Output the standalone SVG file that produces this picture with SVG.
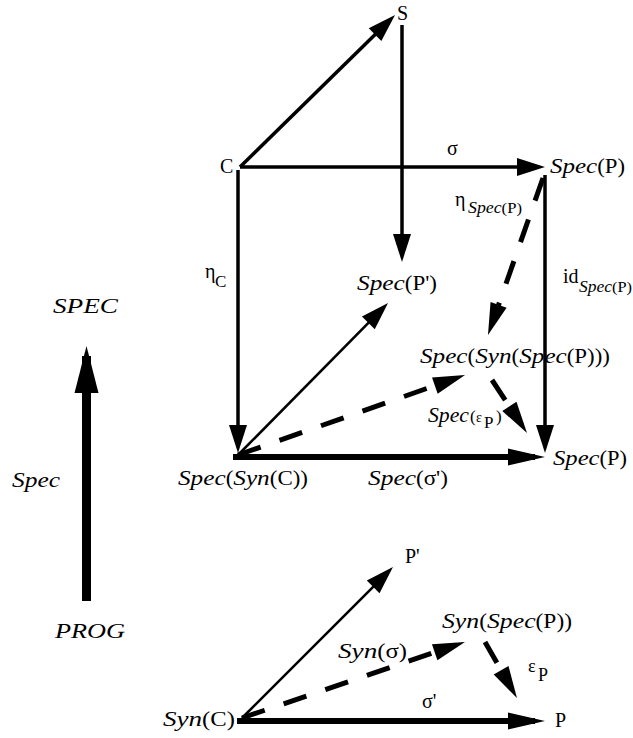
<svg xmlns="http://www.w3.org/2000/svg" width="633" height="738" viewBox="0 0 633 738">
<style>
  text { font-family: "Liberation Serif", "Times New Roman", serif; fill: #000; }
  .it { font-style: italic; font-size: 22px; }
  .rm { font-style: normal; font-size: 20px; }
  .n { font-style: normal; font-size: 20px; }
  .sub { font-size: 16px; }
  .sub .n { font-size: 15px; }
  .ln { stroke: #000; fill: none; stroke-width: 3.5; }
  .thin { stroke: #000; fill: none; stroke-width: 2.6; }
  .thick { stroke: #000; fill: none; stroke-width: 6; }
  .dash { stroke: #000; fill: none; stroke-width: 5; stroke-dasharray: 24 20; }
</style>
<defs>
  <marker id="ah" markerUnits="userSpaceOnUse" markerWidth="28" markerHeight="18" refX="18" refY="9" orient="auto" overflow="visible">
    <path d="M0,0 L28,9 L0,18 z" fill="#000"/>
  </marker>
  <marker id="ahT" markerUnits="userSpaceOnUse" markerWidth="37" markerHeight="17" refX="27" refY="8.5" orient="auto" overflow="visible">
    <path d="M0,0 L37,8.5 L0,17 z" fill="#000"/>
  </marker>
  <marker id="ahD" markerUnits="userSpaceOnUse" markerWidth="32" markerHeight="17" refX="22" refY="8.5" orient="auto" overflow="visible">
    <path d="M0,0 L32,8.5 L0,17 z" fill="#000"/>
  </marker>
  <marker id="ahB" markerUnits="userSpaceOnUse" markerWidth="47" markerHeight="24" refX="37" refY="12" orient="auto" overflow="visible">
    <path d="M0,0 L47,12 L0,24 z" fill="#000"/>
  </marker>
</defs>
<rect width="633" height="738" fill="#fff"/>

<g id="connectors">
  <line class="ln" x1="240" y1="167" x2="387.9" y2="22" marker-end="url(#ah)"/>
  <line class="ln" x1="240" y1="167" x2="535" y2="167" marker-end="url(#ah)"/>
  <line class="ln" x1="402" y1="25" x2="402" y2="252" marker-end="url(#ah)"/>
  <line class="ln" x1="238" y1="170" x2="238" y2="443" marker-end="url(#ah)"/>
  <line class="ln" x1="545" y1="175" x2="545" y2="443" marker-end="url(#ah)"/>
  <line class="dash" x1="543" y1="178" x2="491.3" y2="325.6" marker-end="url(#ahD)"/>
  <line class="thin" x1="238" y1="455" x2="381" y2="310.1" marker-end="url(#ah)"/>
  <line class="dash" x1="238" y1="455" x2="455.6" y2="378.3" marker-end="url(#ahD)"/>
  <line class="dash" x1="492" y1="380" x2="521.5" y2="424.7" marker-end="url(#ahD)"/>
  <line class="thick" x1="233" y1="457" x2="535" y2="457" marker-end="url(#ahT)"/>
  <line stroke="#000" stroke-width="9" x1="86.5" y1="601" x2="86.5" y2="356" marker-end="url(#ahB)"/>
  <line class="thin" x1="242" y1="718" x2="385.9" y2="574.1" marker-end="url(#ah)"/>
  <line class="dash" x1="242" y1="718" x2="455.5" y2="645.2" marker-end="url(#ahD)"/>
  <line class="dash" x1="485" y1="642" x2="512" y2="689.3" marker-end="url(#ahD)"/>
  <line class="thick" x1="237" y1="721" x2="535" y2="721" marker-end="url(#ahT)"/>
</g>

<g id="node-S"><text class="rm" x="397" y="20">S</text></g>
<g id="node-C"><text class="rm" x="220" y="173">C</text></g>
<g id="label-sigma"><text class="rm" x="447" y="155">σ</text></g>
<g id="node-SpecP-top"><text class="it" x="550" y="173" textLength="75" lengthAdjust="spacingAndGlyphs">Spec<tspan class="n">(P)</tspan></text></g>
<g id="label-eta-specP">
  <text class="rm" x="455" y="206">η</text>
  <text class="it sub" x="468" y="213" textLength="54" lengthAdjust="spacingAndGlyphs">Spec<tspan class="n">(P)</tspan></text>
</g>
<g id="label-eta-C">
  <text class="rm" x="205" y="278">η</text>
  <text class="n" x="215" y="287" font-size="17" style="font-size:17px">C</text>
</g>
<g id="node-SpecP-prime"><text class="it" x="357" y="290" textLength="80" lengthAdjust="spacingAndGlyphs">Spec<tspan class="n">(P')</tspan></text></g>
<g id="label-id">
  <text class="rm" x="563" y="283">id</text>
  <text class="it sub" x="579" y="292" textLength="53" lengthAdjust="spacingAndGlyphs">Spec<tspan class="n">(P)</tspan></text>
</g>
<g id="node-SpecSynSpecP"><text class="it" x="420" y="363" textLength="190" lengthAdjust="spacingAndGlyphs">Spec<tspan class="n">(</tspan>Syn<tspan class="n">(</tspan>Spec<tspan class="n">(P)))</tspan></text></g>
<g id="label-spec-eps">
  <text class="it" x="428" y="422" textLength="41" lengthAdjust="spacingAndGlyphs">Spec</text>
  <text x="470" y="422" style="font-size:17px">(</text>
  <text x="476" y="422" style="font-size:14px">ε</text>
  <text x="484" y="428" style="font-size:17px">P</text>
  <text x="496" y="422" style="font-size:17px">)</text>
</g>
<g id="node-SpecP-bottom"><text class="it" x="553" y="465" textLength="74" lengthAdjust="spacingAndGlyphs">Spec<tspan class="n">(P)</tspan></text></g>
<g id="node-SpecSynC"><text class="it" x="178" y="485" textLength="130" lengthAdjust="spacingAndGlyphs">Spec<tspan class="n">(</tspan>Syn<tspan class="n">(C))</tspan></text></g>
<g id="label-spec-sigma-prime"><text class="it" x="368" y="485" textLength="80" lengthAdjust="spacingAndGlyphs">Spec<tspan class="n">(σ')</tspan></text></g>
<g id="node-SPEC"><text class="it" x="53" y="313" textLength="65" lengthAdjust="spacingAndGlyphs">SPEC</text></g>
<g id="label-Spec"><text class="it" x="12" y="487" textLength="48" lengthAdjust="spacingAndGlyphs">Spec</text></g>
<g id="node-PROG"><text class="it" x="55" y="638" textLength="70" lengthAdjust="spacingAndGlyphs">PROG</text></g>
<g id="node-P-prime"><text class="rm" x="405" y="563">P'</text></g>
<g id="node-SynSpecP"><text class="it" x="442" y="628" textLength="130" lengthAdjust="spacingAndGlyphs">Syn<tspan class="n">(</tspan>Spec<tspan class="n">(P))</tspan></text></g>
<g id="label-syn-sigma"><text class="it" x="338" y="658" textLength="69" lengthAdjust="spacingAndGlyphs">Syn<tspan class="n">(σ)</tspan></text></g>
<g id="label-eps-P">
  <text x="528" y="672" style="font-size:18px">ε</text>
  <text x="538" y="681" style="font-size:18px">P</text>
</g>
<g id="label-sigma-prime"><text class="rm" x="422" y="708">σ'</text></g>
<g id="node-SynC"><text class="it" x="163" y="726" textLength="72" lengthAdjust="spacingAndGlyphs">Syn<tspan class="n">(C)</tspan></text></g>
<g id="node-P"><text class="rm" x="555" y="727">P</text></g>
</svg>
